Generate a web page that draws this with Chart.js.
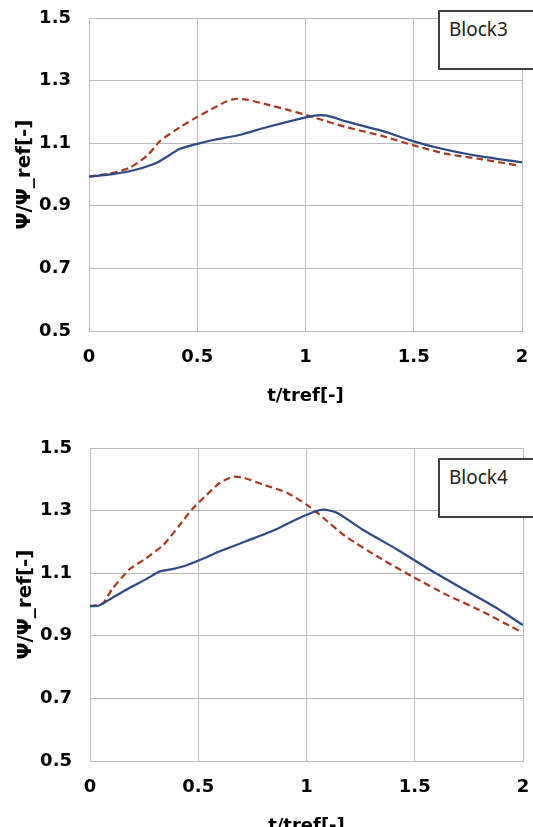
<!DOCTYPE html>
<html>
<head>
<meta charset="utf-8">
<script src="https://cdn.jsdelivr.net/npm/chart.js@4"></script>
<style>
  html, body { margin: 0; padding: 0; background: #fff; overflow: hidden; }
  body { width: 533px; height: 827px; position: relative; }
  .panel { position: absolute; width: 533px; height: 420px; }
  .tag {
    position: absolute; z-index: 2; background: #fff;
    border: 2px solid #404040; box-sizing: border-box;
    font-family: 'Noto Sans', sans-serif; font-size: 19px; color: #222;
    padding: 4px 0 0 9px; width: 100px; height: 60px;
  }
</style>
</head>
<body>
<div class="panel" style="left:0;top:0"><canvas id="block3"></canvas></div>
<div class="panel" style="left:1px;top:430px"><canvas id="block4"></canvas></div>
<div class="tag" style="left:438px;top:10px">Block3</div>
<div class="tag" style="left:438px;top:458px">Block4</div>
<script>
const tTicks = [0, 0.5, 1, 1.5, 2];
const psiTicks = [0.5, 0.7, 0.9, 1.1, 1.3, 1.5];

// Block3
const block3SolidT   = [0, 0.11, 0.22, 0.32, 0.42, 0.50, 0.58, 0.70, 0.82, 0.95, 1.04, 1.10, 1.19, 1.35, 1.50, 1.65, 1.81, 2.0];
const block3SolidPsi = [0.993, 1.001, 1.016, 1.040, 1.082, 1.098, 1.111, 1.127, 1.151, 1.174, 1.188, 1.188, 1.169, 1.140, 1.106, 1.079, 1.058, 1.039];
const block3DashT    = [0, 0.11, 0.19, 0.27, 0.33, 0.42, 0.50, 0.58, 0.64, 0.68, 0.73, 0.82, 0.91, 1.01, 1.04, 1.19, 1.35, 1.50, 1.65, 1.81, 1.98];
const block3DashPsi  = [0.993, 1.005, 1.022, 1.061, 1.108, 1.151, 1.184, 1.214, 1.235, 1.242, 1.239, 1.224, 1.208, 1.189, 1.182, 1.151, 1.124, 1.093, 1.066, 1.049, 1.029];

// Block4
const block4SolidT   = [0, 0.04, 0.10, 0.18, 0.26, 0.32, 0.38, 0.44, 0.51, 0.60, 0.72, 0.85, 0.95, 1.03, 1.08, 1.14, 1.26, 1.42, 1.57, 1.73, 1.88, 2.0];
const block4SolidPsi = [0.995, 0.996, 1.020, 1.052, 1.081, 1.105, 1.113, 1.124, 1.143, 1.170, 1.202, 1.237, 1.271, 1.295, 1.303, 1.293, 1.239, 1.175, 1.111, 1.047, 0.988, 0.934];
const block4DashT    = [0, 0.06, 0.10, 0.18, 0.26, 0.34, 0.41, 0.47, 0.54, 0.60, 0.66, 0.71, 0.80, 0.91, 1.00, 1.06, 1.18, 1.34, 1.49, 1.65, 1.80, 1.99];
const block4DashPsi  = [0.995, 1.004, 1.047, 1.111, 1.148, 1.191, 1.250, 1.303, 1.351, 1.389, 1.408, 1.405, 1.383, 1.357, 1.319, 1.287, 1.218, 1.148, 1.089, 1.030, 0.982, 0.913];

const solidColor = '#2e4a86';
const dashColor = '#a63a1f';
const gridColor = '#b9b9b9';
const tickFont = { family: 'DejaVu Sans', size: 18, weight: 'bold' };
const yTitleFont = { family: 'DejaVu Sans', size: 20, weight: 'bold' };

const pairs = (xs, ys) => xs.map((x, i) => ({ x: x, y: ys[i] }));

// drop the label overhang padding so the plot box sits where the layout says
function noPad(s) {
  s.paddingTop = 0; s.paddingBottom = 0; s.paddingLeft = 0; s.paddingRight = 0;
}

function drawPanel(id, solidT, solidPsi, dashT, dashPsi) {
  const canvas = document.getElementById(id);
  canvas.width = 533;
  canvas.height = 420;
  new Chart(canvas, {
    type: 'line',
    data: {
      datasets: [
        {
          data: pairs(solidT, solidPsi),
          borderColor: solidColor,
          borderWidth: 2.2,
          pointRadius: 0,
          tension: 0.2
        },
        {
          data: pairs(dashT, dashPsi),
          borderColor: dashColor,
          borderWidth: 2.2,
          borderDash: [7, 4],
          pointRadius: 0,
          tension: 0.2
        }
      ]
    },
    options: {
      responsive: false,
      animation: false,
      layout: { padding: { top: 18, right: 11, left: 0, bottom: 0 } },
      plugins: { legend: { display: false }, tooltip: { enabled: false } },
      scales: {
        x: {
          type: 'linear',
          min: 0,
          max: 2,
          afterBuildTicks: s => { s.ticks = tTicks.map(v => ({ value: v })); },
          afterFit: s => { s.height = 89; noPad(s); },
          grid: { color: gridColor, drawTicks: false },
          border: { color: gridColor },
          ticks: { color: '#000', font: tickFont, padding: 16, maxRotation: 0, callback: v => String(v) },
          title: { display: true, text: 't/tref[-]', color: '#000', font: tickFont, padding: { top: 0, bottom: 13 } }
        },
        y: {
          min: 0.5,
          max: 1.5,
          afterBuildTicks: s => { s.ticks = psiTicks.map(v => ({ value: v })); },
          afterFit: s => { s.width = 89; noPad(s); },
          grid: { color: gridColor, drawTicks: false },
          border: { color: gridColor },
          ticks: { color: '#000', font: tickFont, padding: 18, callback: v => v.toFixed(1) },
          title: { display: true, text: 'Ψ/Ψ_ref[-]', color: '#000', font: yTitleFont, padding: { top: 13, bottom: 0 } }
        }
      }
    }
  });
}

drawPanel('block3', block3SolidT, block3SolidPsi, block3DashT, block3DashPsi);
drawPanel('block4', block4SolidT, block4SolidPsi, block4DashT, block4DashPsi);
</script>
</body>
</html>
